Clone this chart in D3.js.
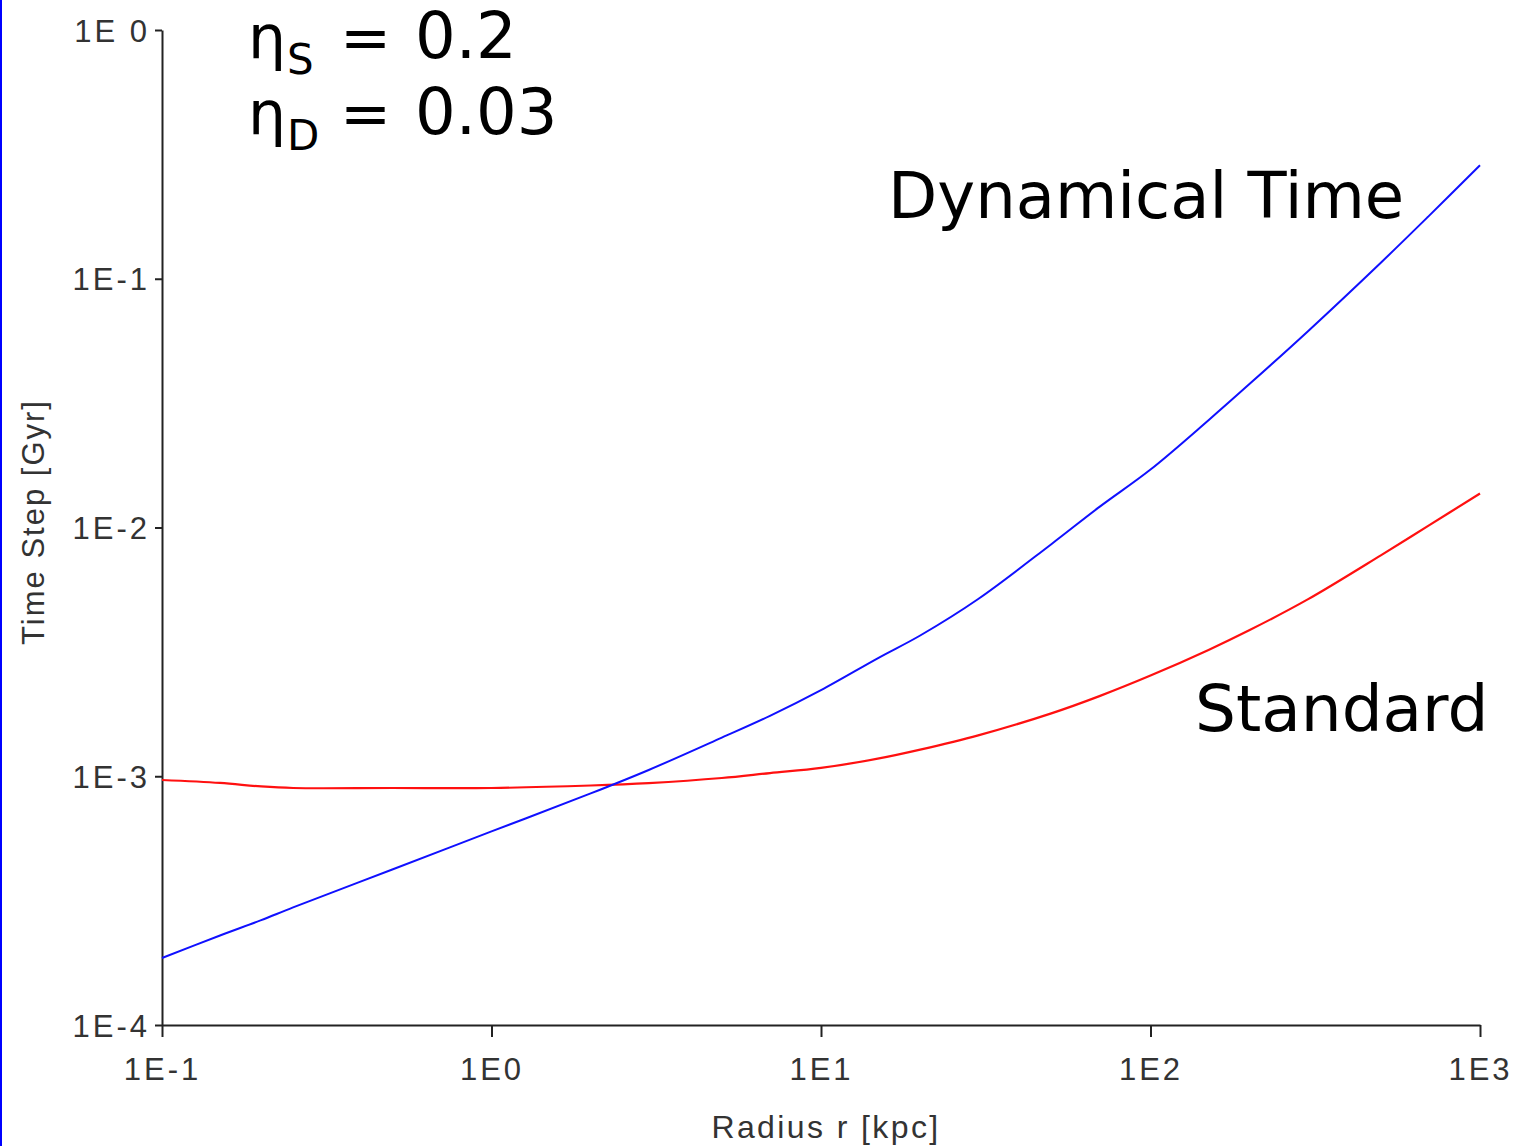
<!DOCTYPE html>
<html>
<head>
<meta charset="utf-8">
<script src="https://cdn.jsdelivr.net/npm/d3@7"></script>
<style>
  html, body { margin: 0; padding: 0; background: #fff; }
  svg { display: block; }
</style>
</head>
<body>
<svg id="chart" width="1523" height="1146"></svg>
<script>
// Radius samples [kpc]
const radius = [0.1, 0.15, 0.2, 0.25, 0.5, 1, 2, 3, 5, 7, 10, 15, 20, 30, 50, 70, 100, 150, 200, 300, 500, 700, 1000];

// Dynamical-time step [Gyr]
const dynamicalStep = [1.86e-4, 2.29e-4, 2.64e-4, 2.97e-4, 4.22e-4, 6.00e-4, 8.53e-4, 1.06e-3, 1.43e-3, 1.75e-3, 2.22e-3, 3.00e-3, 3.68e-3, 5.16e-3, 8.57e-3, 1.21e-2, 1.71e-2, 2.70e-2, 3.78e-2, 6.14e-2, 0.116, 0.179, 0.286];

// Standard time step [Gyr]
const standardStep = [9.66e-4, 9.40e-4, 9.10e-4, 8.97e-4, 8.97e-4, 8.97e-4, 9.18e-4, 9.39e-4, 9.84e-4, 1.03e-3, 1.08e-3, 1.18e-3, 1.28e-3, 1.46e-3, 1.79e-3, 2.10e-3, 2.54e-3, 3.22e-3, 3.87e-3, 5.14e-3, 7.73e-3, 1.02e-2, 1.37e-2];

// Axis ticks and their labels
const xTicks = [0.1, 1, 10, 100, 1000];
const xTickLabels = ["1E-1", "1E0", "1E1", "1E2", "1E3"];
const yTicks = [1e-4, 1e-3, 1e-2, 1e-1, 1];
const yTickLabels = ["1E-4", "1E-3", "1E-2", "1E-1", "1E 0"];

const svg = d3.select("#chart");

// thin blue frame edge on the left
svg.append("rect").attr("x", 0).attr("y", 0).attr("width", 2).attr("height", 1146).attr("fill", "#0000ff");

const x = d3.scaleLog().domain([0.1, 1000]).range([162, 1480]);
const y = d3.scaleLog().domain([1e-4, 1]).range([1025, 30]);

const tickFont = "'Liberation Sans', Arial, sans-serif";

// x axis
const xAxis = svg.append("g")
  .attr("transform", `translate(0,${y(1e-4)})`)
  .call(d3.axisBottom(x).tickValues(xTicks).tickSize(12).tickSizeOuter(0)
    .tickFormat((d, i) => xTickLabels[i]));
xAxis.select(".domain").attr("stroke", "#222").attr("stroke-width", 2);
xAxis.selectAll(".tick line").attr("stroke", "#222").attr("stroke-width", 2);
xAxis.selectAll(".tick text")
  .attr("y", 55).attr("dy", 0)
  .attr("font-family", tickFont).attr("font-size", 31)
  .attr("letter-spacing", 3).attr("fill", "#333");

// y axis
const yAxis = svg.append("g")
  .attr("transform", `translate(${x(0.1)},0)`)
  .call(d3.axisLeft(y).tickValues(yTicks).tickSize(7).tickSizeOuter(0)
    .tickFormat((d, i) => yTickLabels[i]));
yAxis.select(".domain").attr("stroke", "#222").attr("stroke-width", 2);
yAxis.selectAll(".tick line").attr("stroke", "#222").attr("stroke-width", 2);
yAxis.selectAll(".tick text")
  .attr("x", -12).attr("dy", "0.36em")
  .attr("font-family", tickFont).attr("font-size", 31)
  .attr("letter-spacing", 3).attr("fill", "#333");

// axis titles
svg.append("text")
  .attr("x", 826).attr("y", 1138)
  .attr("text-anchor", "middle")
  .attr("font-family", tickFont).attr("font-size", 32)
  .attr("letter-spacing", 2.4).attr("fill", "#333")
  .text("Radius r [kpc]");

svg.append("text")
  .attr("transform", "translate(44,522) rotate(-90)")
  .attr("text-anchor", "middle")
  .attr("font-family", tickFont).attr("font-size", 31)
  .attr("letter-spacing", 2).attr("fill", "#333")
  .text("Time Step [Gyr]");

// curves
const line = d3.line()
  .x(d => x(d.r))
  .y(d => y(d.t))
  .curve(d3.curveCatmullRom.alpha(0.5));

const standard = radius.map((r, i) => ({ r, t: standardStep[i] }));
const dynamical = radius.map((r, i) => ({ r, t: dynamicalStep[i] }));

svg.append("path").datum(standard)
  .attr("d", line).attr("fill", "none")
  .attr("stroke", "#ff1010").attr("stroke-width", 2.2);

svg.append("path").datum(dynamical)
  .attr("d", line).attr("fill", "none")
  .attr("stroke", "#1010ff").attr("stroke-width", 2);

// annotations
const annoFont = "'DejaVu Sans', Verdana, sans-serif";

function eta(sub, value, baseY) {
  const t = svg.append("text")
    .attr("font-family", annoFont).attr("fill", "#000");
  t.append("tspan").attr("x", 248).attr("y", baseY).attr("font-size", 60).text("η");
  t.append("tspan").attr("x", 287).attr("y", baseY + 16).attr("font-size", 42).text(sub);
  t.append("tspan").attr("x", 340).attr("y", baseY).attr("font-size", 61).text("=");
  t.append("tspan").attr("x", 415).attr("y", baseY).attr("font-size", 64).text(value);
}
eta("S", "0.2", 58);
eta("D", "0.03", 134);

svg.append("text")
  .attr("x", 888).attr("y", 218)
  .attr("font-family", annoFont).attr("font-size", 64).attr("fill", "#000")
  .text("Dynamical Time");

svg.append("text")
  .attr("x", 1195).attr("y", 731)
  .attr("font-family", annoFont).attr("font-size", 64.5).attr("fill", "#000")
  .text("Standard");
</script>
</body>
</html>
